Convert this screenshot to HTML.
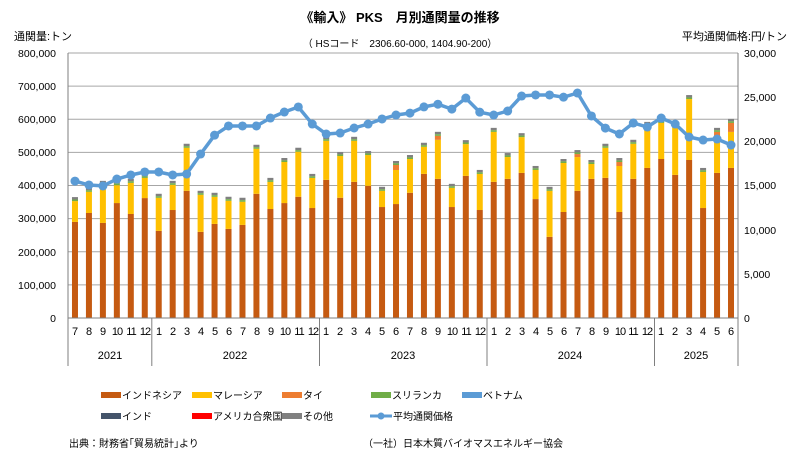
<!DOCTYPE html>
<html><head><meta charset="utf-8"><style>
body{margin:0;background:#fff;}
svg{display:block;font-family:"Liberation Sans","Noto Sans CJK JP",sans-serif;}
</style></head><body>
<svg id="c" width="795" height="459" viewBox="0 0 795 459" xmlns="http://www.w3.org/2000/svg">
<rect width="795" height="459" fill="#fff"/>
<text x="400" y="22" font-size="13" font-weight="bold" text-anchor="middle">《輸入》 PKS　月別通関量の推移</text>
<text x="400" y="47" font-size="10" text-anchor="middle">（ HSコード　2306.60-000, 1404.90-200）</text>
<text x="14" y="40" font-size="11">通関量:トン</text>
<text x="787" y="40" font-size="11" text-anchor="end">平均通関価格:円/トン</text>
<g id="grid" stroke="#a6a6a6" stroke-width="1"></g>
<g font-size="10.5" text-anchor="end">
<text x="56" y="57">800,000</text><text x="56" y="90">700,000</text><text x="56" y="123">600,000</text><text x="56" y="156">500,000</text><text x="56" y="189">400,000</text><text x="56" y="222">300,000</text><text x="56" y="256">200,000</text><text x="56" y="289">100,000</text><text x="56" y="322">0</text>
</g>
<g font-size="10.5" text-anchor="start">
<text x="744" y="57">30,000</text><text x="744" y="101">25,000</text><text x="744" y="145">20,000</text><text x="744" y="189">15,000</text><text x="744" y="234">10,000</text><text x="744" y="278">5,000</text><text x="744" y="322">0</text>
</g>
<g id="bars"></g>
<g id="line"></g>
<line x1="68" y1="53" x2="68" y2="318" stroke="#7f7f7f"/>
<line x1="738" y1="53" x2="738" y2="318" stroke="#7f7f7f"/>
<g stroke="#7f7f7f">
<line x1="68" y1="318" x2="738" y2="318"/>
<line x1="68" y1="318" x2="68" y2="366"/><line x1="151.8" y1="318" x2="151.8" y2="366"/><line x1="319.5" y1="318" x2="319.5" y2="366"/><line x1="487" y1="318" x2="487" y2="366"/><line x1="654.5" y1="318" x2="654.5" y2="366"/><line x1="738" y1="318" x2="738" y2="366"/>
</g>
<g font-size="11" text-anchor="middle">
<text x="75" y="335">7</text><text x="89" y="335">8</text><text x="103" y="335">9</text><text x="117" y="335" letter-spacing="-1">10</text><text x="131" y="335" letter-spacing="-1">11</text><text x="145" y="335" letter-spacing="-1">12</text>
<text x="159" y="335">1</text><text x="173" y="335">2</text><text x="187" y="335">3</text><text x="201" y="335">4</text><text x="215" y="335">5</text><text x="229" y="335">6</text><text x="243" y="335">7</text><text x="257" y="335">8</text><text x="271" y="335">9</text><text x="285" y="335" letter-spacing="-1">10</text><text x="299" y="335" letter-spacing="-1">11</text><text x="313" y="335" letter-spacing="-1">12</text>
<text x="326" y="335">1</text><text x="340" y="335">2</text><text x="354" y="335">3</text><text x="368" y="335">4</text><text x="382" y="335">5</text><text x="396" y="335">6</text><text x="410" y="335">7</text><text x="424" y="335">8</text><text x="438" y="335">9</text><text x="452" y="335" letter-spacing="-1">10</text><text x="466" y="335" letter-spacing="-1">11</text><text x="480" y="335" letter-spacing="-1">12</text>
<text x="494" y="335">1</text><text x="508" y="335">2</text><text x="522" y="335">3</text><text x="536" y="335">4</text><text x="550" y="335">5</text><text x="564" y="335">6</text><text x="578" y="335">7</text><text x="592" y="335">8</text><text x="606" y="335">9</text><text x="620" y="335" letter-spacing="-1">10</text><text x="633" y="335" letter-spacing="-1">11</text><text x="647" y="335" letter-spacing="-1">12</text>
<text x="661" y="335">1</text><text x="675" y="335">2</text><text x="689" y="335">3</text><text x="703" y="335">4</text><text x="717" y="335">5</text><text x="731" y="335">6</text>
<text x="110" y="359">2021</text><text x="235" y="359">2022</text><text x="403" y="359">2023</text><text x="570" y="359">2024</text><text x="696" y="359">2025</text>
</g>
<g font-size="10">
<rect x="101" y="392" width="20" height="6" fill="#c55a11"/><text x="122" y="399">インドネシア</text>
<rect x="192" y="392" width="20" height="6" fill="#ffc000"/><text x="213" y="399">マレーシア</text>
<rect x="282" y="392" width="20" height="6" fill="#ed7d31"/><text x="303" y="399">タイ</text>
<rect x="371" y="392" width="20" height="6" fill="#70ad47"/><text x="392" y="399">スリランカ</text>
<rect x="462" y="392" width="20" height="6" fill="#5b9bd5"/><text x="483" y="399">ベトナム</text>
<rect x="101" y="413" width="20" height="6" fill="#44546a"/><text x="122" y="420">インド</text>
<rect x="192" y="413" width="20" height="6" fill="#ff0000"/><text x="213" y="420">アメリカ合衆国</text>
<rect x="282" y="413" width="20" height="6" fill="#808080"/><text x="303" y="420">その他</text>
<line x1="370" y1="416" x2="392" y2="416" stroke="#5b9bd5" stroke-width="3"/><circle cx="381" cy="416" r="3.5" fill="#5b9bd5"/><text x="393" y="420">平均通関価格</text>
</g>
<text x="69" y="447" font-size="10">出典：財務省｢貿易統計｣より</text>
<text x="563" y="447" font-size="10" text-anchor="end">（一社）日本木質バイオマスエネルギー協会</text>
</svg>
<script>
var ns="http://www.w3.org/2000/svg";
function el(p,t,a){var e=document.createElementNS(ns,t);for(var k in a)e.setAttribute(k,a[k]);p.appendChild(e);return e;}
var g=document.getElementById("grid");
for(var i=1;i<=8;i++){var y=318-i*265/8;el(g,"line",{x1:68,x2:738,y1:y,y2:y});}
var tot=[365,393,414,413,420,435,375,414,526,384,378,366,363,523,423,483,514,435,547,501,547,504,396,474,492,529,562,405,537,447,574,498,558,459,396,480,507,477,526,483,538,592,601,590,673,453,574,601];
var ind=[290,317,287,347,314,362,263,326,384,260,284,269,281,375,329,347,366,332,417,363,411,399,335,344,378,435,420,335,429,326,411,420,438,359,245,320,384,420,423,320,420,453,480,432,477,332,438,453];
var pr=[15500,15060,14950,15730,16190,16530,16530,16190,16300,18560,20700,21740,21740,21740,22640,23320,23890,21960,20830,20940,21510,21960,22530,22980,23200,23900,24200,23650,24900,23300,22980,23430,25130,25250,25250,25000,25470,22870,21500,20830,22070,21620,22640,21960,20490,20150,20260,19580];
var thai={23:5,26:4,36:3,39:4,46:5,47:9};
var b=document.getElementById("bars"),w=13.958,s=265/800;
for(var i=0;i<48;i++){var cx=68+w*(i+0.5),x=cx-3;
var yI=318-ind[i]*s,yT=318-tot[i]*s,cap=Math.min(4,(tot[i]-ind[i])*s*0.3),th=(thai[i]||0);
el(b,"rect",{x:x,y:yI,width:6,height:318-yI,fill:"#c55a11"});
el(b,"rect",{x:x,y:yT+cap+th,width:6,height:yI-yT-cap-th,fill:"#ffc000"});
if(th)el(b,"rect",{x:x,y:yT+cap,width:6,height:th,fill:"#ed7d31"});
el(b,"rect",{x:x,y:yT,width:6,height:cap*0.6,fill:"#808080"});
el(b,"rect",{x:x,y:yT+cap*0.6,width:6,height:cap*0.4,fill:"#70ad47"});}
var l=document.getElementById("line"),pts=[];
for(var i=0;i<48;i++){pts.push((68+w*(i+0.5)).toFixed(1)+","+(318-pr[i]*265/30000).toFixed(1));}
el(l,"polyline",{points:pts.join(" "),fill:"none",stroke:"#5b9bd5","stroke-width":3.5,"stroke-linejoin":"round"});
for(var i=0;i<48;i++){el(l,"circle",{cx:68+w*(i+0.5),cy:318-pr[i]*265/30000,r:4.5,fill:"#5b9bd5"});}
</script>
</body></html>
